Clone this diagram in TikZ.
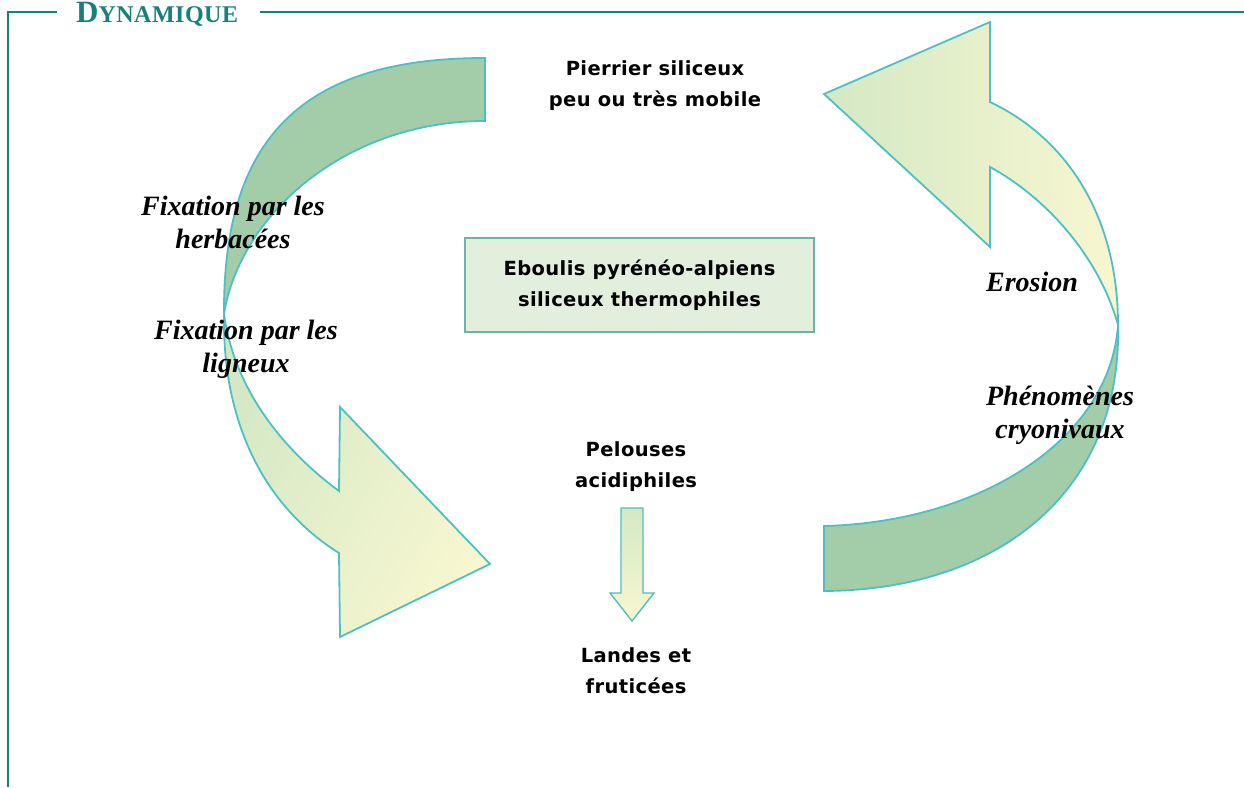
\documentclass[tikz,border=0pt]{standalone}
\usepackage{fontspec}
\newfontfamily\comicf[LetterSpace=2]{DejaVu Sans}
\newfontfamily\timesf{Liberation Serif}
\definecolor{teal1}{RGB}{24,128,122}
\definecolor{outl}{RGB}{78,192,196}
\definecolor{darkg}{RGB}{162,205,168}
\definecolor{lightg}{RGB}{212,232,197}
\definecolor{paley}{RGB}{247,247,208}
\definecolor{boxf}{RGB}{227,239,221}
\definecolor{boxd}{RGB}{108,178,168}
\tikzset{
  sans/.style={font=\comicf\bfseries\fontsize{19.5}{31}\selectfont, align=center, inner sep=0pt},
  ital/.style={font=\timesf\bfseries\itshape\fontsize{28}{33}\selectfont, align=center, inner sep=0pt},
  band/.style={draw=outl, line width=1.8pt, line join=miter},
  frame/.style={draw=teal1, line width=2.2pt}
}
\begin{document}
\begin{tikzpicture}[x=1pt,y=-1pt]
\useasboundingbox (0,0) rectangle (1244,787);
% frame
\draw[frame] (57,12) -- (8,12) -- (8,787);
\draw[frame] (260,12) -- (1244,12);
\node[anchor=base west, inner sep=0pt, text=teal1, font=\timesf\bfseries] (title) at (76,23)
  {{\fontsize{31}{31}\selectfont D}{\fontsize{24}{24}\selectfont Y\kern0.5pt N\kern0.5pt A\kern0.5pt M\kern0.5pt I\kern0.5pt Q\kern0.5pt U\kern0.5pt E}};
% key points
\coordinate (CL) at (224,314);
\coordinate (CR) at (1118,325);
% left arrow: lower light band with head
\path[band, shading=axis, left color=lightg, right color=paley, shading angle=60]
  (CL) .. controls (235,395) and (290,455) .. (339,491) -- (340,407) -- (490,564)
  -- (340,637) -- (339,553) .. controls (270,510) and (222,430) .. (CL) -- cycle;
% left arrow: upper dark band
\path[band, fill=darkg]
  (485,58) .. controls (300,58) and (223,140) .. (CL)
  .. controls (240,215) and (345,121) .. (485,121) -- cycle;
% right arrow: upper light band with head
\path[band, shading=axis, left color=lightg, right color=paley]
  (990,102) .. controls (1070,140) and (1118,220) .. (CR)
  .. controls (1100,260) and (1050,200) .. (990,167) -- (990,247) -- (824,94)
  -- (990,22) -- cycle;
% right arrow: lower dark band
\path[band, fill=darkg]
  (CR) .. controls (1122,490) and (1000,590) .. (824,591) -- (824,526)
  .. controls (980,522) and (1110,440) .. (CR) -- cycle;
% central box
\node[sans, draw=boxd, fill=boxf, line width=1.3pt, minimum width=349pt, minimum height=94pt] (ebo) at (639.5,285)
  {Eboulis pyrénéo-alpiens\\siliceux thermophiles};
% texts
\node[sans] (pier) at (655,86) {Pierrier siliceux\\peu ou très mobile};
\node[sans] (pel) at (636,467) {Pelouses\\acidiphiles};
\node[sans] (lan) at (636,671) {Landes et\\fruticées};
\node[ital] (herb) at (233,222) {Fixation par les\\herbacées};
\node[ital] (lign) at (246,349) {Fixation par les\\ligneux};
\node[ital] (ero) at (1032,282) {Erosion};
\node[ital] (phen) at (1060,415) {Phénomènes\\cryonivaux};
% small block arrow
\path[band, line width=1.4pt, shading=axis, top color=lightg, bottom color=paley]
  (621,508) -- (643,508) -- (643,593) -- (654,593) -- (632,621) -- (610,593) -- (621,593) -- cycle;
\end{tikzpicture}
\end{document}
